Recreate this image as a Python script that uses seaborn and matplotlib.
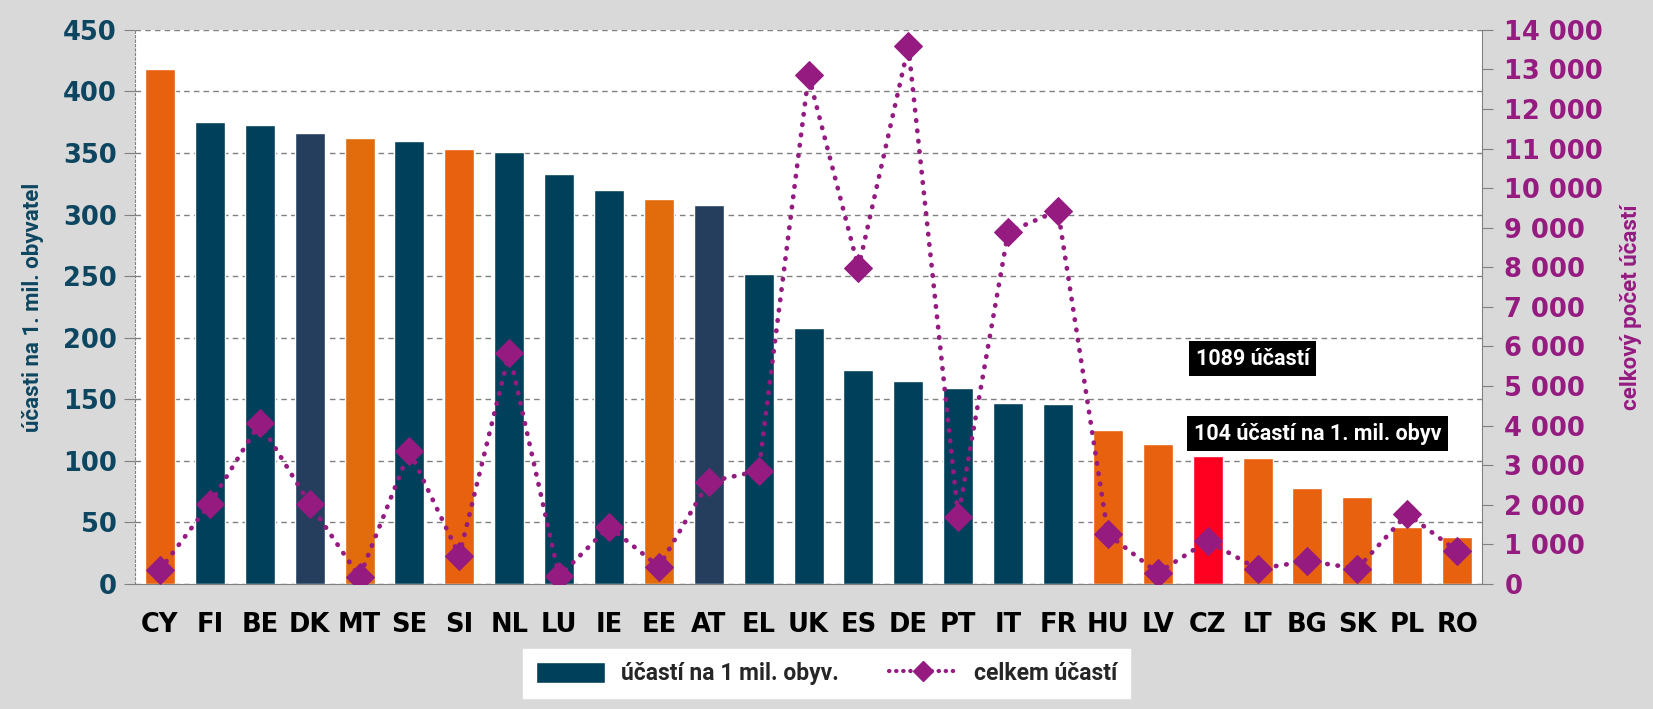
import matplotlib.pyplot as plt
import numpy as np
import pandas as pd
import seaborn as sns
from matplotlib.lines import Line2D
from matplotlib.patches import Patch
from matplotlib.ticker import FuncFormatter, MultipleLocator

countries = ["CY", "FI", "BE", "DK", "MT", "SE", "SI", "NL", "LU", "IE", "EE", "AT", "EL", "UK",
             "ES", "DE", "PT", "IT", "FR", "HU", "LV", "CZ", "LT", "BG", "SK", "PL", "RO"]
per_million = [418, 375, 373, 366, 362, 360, 353, 351, 333, 320, 313, 308, 252, 208,
               174, 165, 159, 147, 146, 125, 114, 104, 102, 78, 71, 46, 38]
total = [360, 2030, 4070, 2030, 180, 3360, 720, 5840, 190, 1450, 440, 2580, 2860, 12850,
         7980, 13580, 1700, 8890, 9430, 1260, 280, 1089, 380, 580, 390, 1770, 830]

# colour groups as in the original
c_teal, c_navy, c_orange, c_orange2, c_red = "#00405a", "#253e5e", "#e8610f", "#e26b0b", "#ff0020"
bar_colors = {"DK": c_navy, "AT": c_navy, "MT": c_orange2, "EE": c_orange2, "CZ": c_red}
for c in ["CY", "SI", "HU", "LV", "LT", "BG", "SK", "PL", "RO"]:
    bar_colors[c] = c_orange
palette = [bar_colors.get(c, c_teal) for c in countries]

purple = "#951b81"
left_col = "#0d4660"
narrow = ["Roboto", "DejaVu Sans"]

df = pd.DataFrame({"country": countries, "per_million": per_million, "total": total})

sns.set_style("white")
fig = plt.figure(figsize=(16.53, 7.09), dpi=100, facecolor="#d9d9d9")
ax = fig.add_axes([0.0817, 0.1763, 0.8149, 0.7817])
ax.set_facecolor("white")

sns.barplot(data=df, x="country", y="per_million", hue="country", palette=palette,
            legend=False, width=0.6, saturation=1, ax=ax)
ax.set_ylim(0, 450)
ax.set_xlim(-0.5, len(countries) - 0.5)
ax.yaxis.set_major_locator(MultipleLocator(50))
ax.grid(axis="y", color="#808080", linestyle=(0, (4, 3)), linewidth=1)
ax.set_axisbelow(True)
ax.set_xlabel("")
ax.set_ylabel("účasti na 1. mil. obyvatel", fontsize=16, fontweight="bold", color=left_col,
              family=narrow, labelpad=14)
ax.tick_params(axis="y", labelsize=18.5, labelcolor=left_col, length=8, color="#808080", pad=5)
for t in ax.get_yticklabels():
    t.set_fontweight("bold")
ax.tick_params(axis="x", which="major", length=0, labelsize=18.5, pad=20)
for t in ax.get_xticklabels():
    t.set_fontweight("bold")
    t.set_color("black")
ax.set_xticks(np.arange(len(countries) + 1) - 0.5, minor=True)
ax.tick_params(axis="x", which="minor", length=8, color="#808080", direction="out")

ax.spines["top"].set_visible(False)
ax.spines["bottom"].set_color("#808080")
ax.spines["left"].set_color("#808080")
ax.spines["left"].set_linestyle((0, (2, 2)))
ax.spines["right"].set_visible(False)

ax2 = ax.twinx()
sns.lineplot(x=np.arange(len(countries)), y=df["total"], ax=ax2, color=purple,
             linestyle=(0, (0.1, 2.1)), linewidth=3.4, dash_capstyle="round",
             marker="D", markersize=14, markeredgecolor=purple)
ax2.set_ylim(0, 14000)
ax2.yaxis.set_major_locator(MultipleLocator(1000))
ax2.yaxis.set_major_formatter(FuncFormatter(lambda v, p: f"{int(v):,}".replace(",", " ")))
ax2.tick_params(axis="y", labelsize=18.5, labelcolor=purple, length=8, color="#808080", pad=8)
for t in ax2.get_yticklabels():
    t.set_fontweight("bold")
ax2.set_ylabel("celkový počet účastí", fontsize=16, fontweight="bold", color=purple,
               family=narrow, labelpad=12)
for s in ["top", "left", "bottom"]:
    ax2.spines[s].set_visible(False)
ax2.spines["right"].set_color("#808080")

# callouts for CZ
box = dict(boxstyle="square,pad=0.3", facecolor="black", edgecolor="none")
ax.text(21.9, 183, "1089 účastí", color="white", fontsize=15.5, fontweight="bold",
        family=narrow, ha="center", va="center", bbox=box, zorder=5)
ax.text(23.2, 122, "104 účastí na 1. mil. obyv", color="white", fontsize=15.5, fontweight="bold",
        family=narrow, ha="center", va="center", bbox=box, zorder=5)

handles = [Patch(facecolor=c_teal, label="účastí na 1 mil. obyv."),
           Line2D([], [], color=purple, linestyle=(0, (0.1, 1.6)), linewidth=3, marker="D",
                  markersize=10, dash_capstyle="round", label="celkem účastí")]
leg = fig.legend(handles=handles, loc="center", bbox_to_anchor=(0.5, 0.05), ncol=2,
                 frameon=True, fancybox=False, edgecolor="white", facecolor="white",
                 prop={"family": narrow, "weight": "bold", "size": 16.5},
                 borderpad=0.55, columnspacing=2.2, handlelength=3.0, handleheight=1.0,
                 handletextpad=0.7, borderaxespad=0)
leg.get_frame().set_alpha(1)

fig.savefig("out.png", dpi=100, facecolor=fig.get_facecolor())
